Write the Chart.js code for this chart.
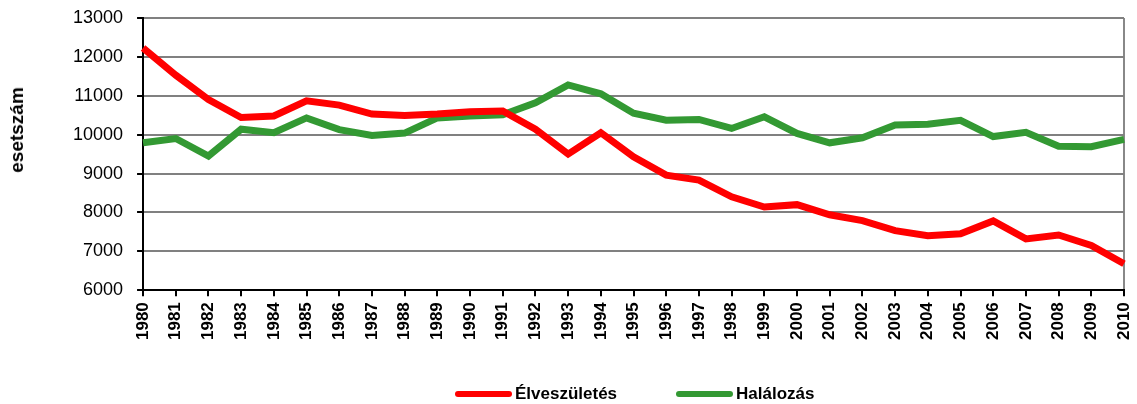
<!DOCTYPE html>
<html>
<head>
<meta charset="utf-8">
<script src="https://cdn.jsdelivr.net/npm/chart.js@4"></script>
<style>
  html, body { margin: 0; padding: 0; background: #fff; }
  #wrap { width: 1137px; height: 404px; position: relative; }
  #legend {
    position: absolute; left: 455px; top: 384px;
    display: flex; align-items: center;
    font: bold 17px "Liberation Sans", Arial, sans-serif; color: #000;
  }
  #legend .item { display: flex; align-items: center; margin-right: 59px; }
  #legend .swatch { width: 57px; height: 6px; border-radius: 3px; margin-right: 3px; }
  #ytitle {
    position: absolute; left: 17px; top: 130px;
    transform: translate(-50%, -50%) rotate(-90deg);
    white-space: nowrap;
    font: bold 19px "Liberation Sans", Arial, sans-serif; color: #000;
  }
</style>
</head>
<body>
<div id="wrap"><canvas id="myChart"></canvas><div id="ytitle"></div><div id="legend"></div></div>
<script>
const years = [];
for (var y = 1980; y <= 2010; y++) {
    years.push(String(y));
}

const births = [12230, 11530, 10900, 10440, 10480, 10870, 10760, 10530, 10490, 10530,
    10590, 10610, 10140, 9500, 10050, 9430, 8960, 8830, 8400, 8140,
    8200, 7940, 7790, 7530, 7400, 7450, 7780, 7320, 7420, 7150, 6680];

const deaths = [9790, 9900, 9450, 10140, 10050, 10430, 10130, 9980, 10040, 10430,
    10480, 10510, 10820, 11280, 11050, 10550, 10370, 10390, 10160, 10460,
    10030, 9790, 9920, 10250, 10270, 10370, 9950, 10060, 9700, 9690, 9880];

const seriesNames = ['Élveszületés', 'Halálozás'];
const seriesColors = ['#ff0000', '#339933'];
const yTitle = 'esetszám';

const chartEl = document.getElementById('myChart');

const chart = new Chart(chartEl, {
    type: 'line',
    data: {
        labels: years,
        datasets: [{
            label: seriesNames[0],
            data: births,
            borderColor: seriesColors[0],
            backgroundColor: seriesColors[0],
            borderWidth: 7,
            pointRadius: 0,
            tension: 0
        }, {
            label: seriesNames[1],
            data: deaths,
            borderColor: seriesColors[1],
            backgroundColor: seriesColors[1],
            borderWidth: 7,
            pointRadius: 0,
            tension: 0
        }]
    },
    options: {
        responsive: true,
        maintainAspectRatio: false,
        animation: false,
        layout: {
            padding: { left: 59, right: 13, top: 18, bottom: 58 }
        },
        plugins: {
            legend: { display: false },
            tooltip: { enabled: false }
        },
        scales: {
            x: {
                offset: false,
                afterFit: function (scale) {
                    scale.paddingLeft = 0;
                    scale.paddingRight = 0;
                },
                grid: {
                    drawOnChartArea: true,
                    color: function (ctx) {
                        return ctx.index === years.length - 1 ? '#888888' : 'rgba(0,0,0,0)';
                    },
                    lineWidth: 2,
                    tickColor: '#000',
                    tickLength: 6
                },
                border: { color: '#000', width: 2 },
                ticks: {
                    color: '#000',
                    minRotation: 90,
                    maxRotation: 90,
                    autoSkip: false,
                    padding: 6,
                    font: { family: 'Liberation Sans, Arial', size: 17, weight: 'bold' }
                }
            },
            y: {
                min: 6000,
                max: 13000,
                afterFit: function (scale) {
                    scale.paddingTop = 0;
                    scale.paddingBottom = 0;
                },
                grid: {
                    color: '#808080',
                    lineWidth: 2,
                    tickColor: '#000',
                    tickLength: 6
                },
                border: { color: '#000', width: 2 },
                ticks: {
                    stepSize: 1000,
                    color: '#000',
                    padding: 14,
                    font: { family: 'Liberation Sans, Arial', size: 18 },
                    callback: function (value) {
                        return String(value);
                    }
                }
            }
        }
    }
});

document.getElementById('ytitle').textContent = yTitle;

// html legend built from the datasets
const legendBox = document.getElementById('legend');
chart.data.datasets.forEach(function (ds) {
    const item = document.createElement('div');
    item.className = 'item';
    const sw = document.createElement('span');
    sw.className = 'swatch';
    sw.style.background = ds.borderColor;
    const txt = document.createElement('span');
    txt.textContent = ds.label;
    item.appendChild(sw);
    item.appendChild(txt);
    legendBox.appendChild(item);
});
</script>
</body>
</html>
